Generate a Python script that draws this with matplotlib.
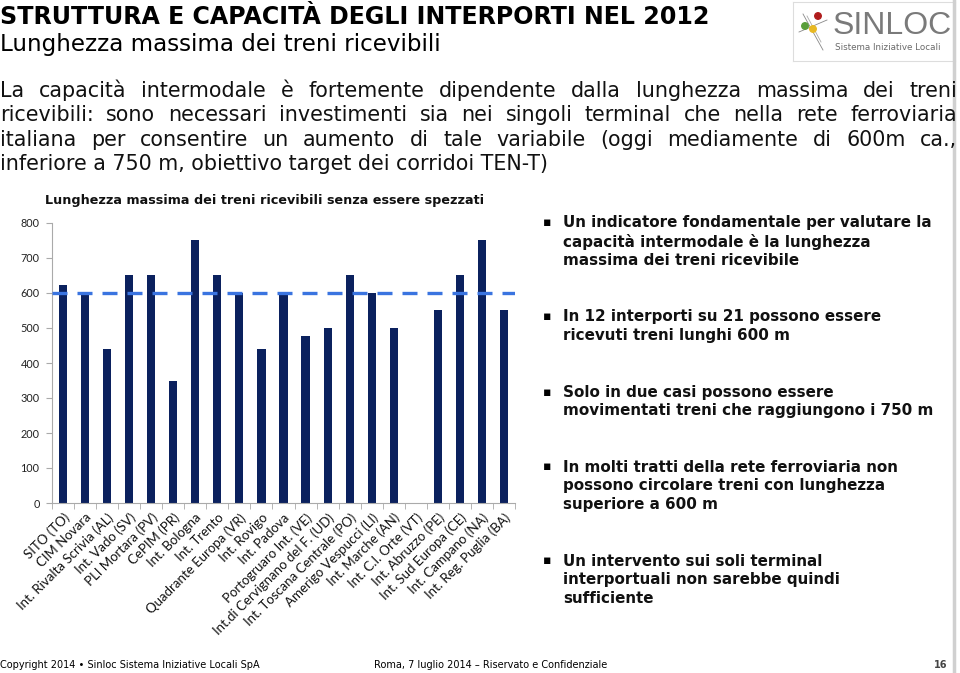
import numpy as np
import matplotlib
matplotlib.use('Agg')
import matplotlib.pyplot as plt

plt.rcParams['font.family'] = ['DejaVu Sans']

# data
interporti = ['SITO (TO)', 'CIM Novara', 'Int. Rivalta Scrivia (AL)', 'Int. Vado (SV)',
              'PLI Mortara (PV)', 'CePIM (PR)', 'Int. Bologna', 'Int. Trento',
              'Quadrante Europa (VR)', 'Int. Rovigo', 'Int. Padova', 'Portogruaro Int. (VE)',
              'Int.di Cervignano del F. (UD)', 'Int. Toscana Centrale (PO)',
              'Amerigo Vespucci (LI)', 'Int. Marche (AN)', 'Int. C.I. Orte (VT)',
              'Int. Abruzzo (PE)', 'Int. Sud Europa (CE)', 'Int. Campano (NA)',
              'Int. Reg. Puglia (BA)']
lunghezza = [623, 600, 440, 650, 650, 350, 750, 650, 600, 440, 600, 478,
             500, 650, 600, 500, 0, 550, 650, 750, 550]
soglia = 600
y_ticks = [0, 100, 200, 300, 400, 500, 600, 700, 800]

titolo = 'STRUTTURA E CAPACITÀ DEGLI INTERPORTI NEL 2012'
sottotitolo = 'Lunghezza massima dei treni ricevibili'
paragrafo = ['La capacità intermodale è fortemente dipendente dalla lunghezza massima dei treni',
             'ricevibili: sono necessari investimenti sia nei singoli terminal che nella rete ferroviaria',
             'italiana per consentire un aumento di tale variabile (oggi mediamente di 600m ca.,',
             'inferiore a 750 m, obiettivo target dei corridoi TEN-T)']
punti = [['Un indicatore fondamentale per valutare la',
          'capacità intermodale è la lunghezza',
          'massima dei treni ricevibile'],
         ['In 12 interporti su 21 possono essere',
          'ricevuti treni lunghi 600 m'],
         ['Solo in due casi possono essere',
          'movimentati treni che raggiungono i 750 m'],
         ['In molti tratti della rete ferroviaria non',
          'possono circolare treni con lunghezza',
          'superiore a 600 m'],
         ['Un intervento sui soli terminal',
          'interportuali non sarebbe quindi',
          'sufficiente']]
punti_y = [223, 317, 392, 467, 561]

W, H = 960, 673
fig = plt.figure(figsize=(W / 100, H / 100), dpi=100)
fig.patch.set_facecolor('white')


def P(x, y):
    return x / W, 1 - y / H


# header
fig.text(*P(0, 17), titolo, fontsize=17.1, fontweight='bold', color='black', va='center')
fig.text(*P(0, 44), sottotitolo, fontsize=16.6, color='black', va='center')

# justified paragraph (baseline aligned)
renderer = fig.canvas.get_renderer()
for i, riga in enumerate(paragrafo):
    y = 97 + i * 24.3
    if i == len(paragrafo) - 1:
        fig.text(*P(0, y), riga, fontsize=14.9, color='#111111', va='baseline')
        continue
    parole = riga.split(' ')
    tt = [fig.text(*P(0, y), p, fontsize=14.9, color='#111111', va='baseline') for p in parole]
    widths = [t.get_window_extent(renderer).width for t in tt]
    gap = (957 - sum(widths)) / (len(parole) - 1)
    x = 0
    for t, w in zip(tt, widths):
        t.set_position(P(x, y))
        x += w + gap

# logo
logo = fig.add_axes([793 / W, 1 - 61 / H, 162 / W, 59 / H])
logo.set_xlim(0, 162)
logo.set_ylim(59, 0)
logo.set_xticks([])
logo.set_yticks([])
for s in logo.spines.values():
    s.set_color('#dddddd')
logo.plot([10, 30], [12, 48], color='#888888', lw=0.6)
logo.plot([6, 34], [30, 18], color='#888888', lw=0.6)
logo.plot([14, 28], [14, 40], color='#aaaaaa', lw=0.6)
logo.scatter([12, 25, 20], [24, 14, 27], s=[22, 22, 22], color=['#5a9e3a', '#b01c1c', '#e8b923'], zorder=3)
logo.text(40, 24, 'SINLOC', fontsize=23, color='#7a7a7a', va='center', family='Liberation Sans')
logo.text(42, 46, 'Sistema Iniziative Locali', fontsize=6.3, color='#6a6a6a', va='center')

# right gray border
fig.add_artist(plt.Line2D([954 / W, 954 / W], [0, 1], color='#d0d0d0', lw=2.5))

# chart
fig.text(*P(265, 200), 'Lunghezza massima dei treni ricevibili senza essere spezzati',
         fontsize=9.2, fontweight='bold', color='#111111', ha='center', va='center')

ax = fig.add_axes([52 / W, 1 - 503 / H, (515 - 52) / W, (503 - 223) / H])
x = np.arange(len(interporti))
ax.bar(x, lunghezza, width=0.37, color='#0b215e', zorder=2)
ax.axhline(soglia, color='#3a74e0', lw=2.4, dashes=(4.5, 3), zorder=3)
ax.set_xlim(-0.5, len(interporti) - 0.5)
ax.set_ylim(0, 800)
ax.set_yticks(y_ticks)
ax.set_yticklabels([str(v) for v in y_ticks], fontsize=7.8, family='Lato', color='#222222')
ax.set_xticks(x)
ax.set_xticklabels(interporti, rotation=45, ha='right', rotation_mode='anchor',
                   fontsize=9.5, family='Lato', color='#111111')
ax.set_xticks(np.arange(-0.5, len(interporti)), minor=True)
ax.tick_params(axis='x', which='major', length=0, pad=6)
ax.tick_params(axis='x', which='minor', length=4, color='#aaaaaa', direction='out')
ax.tick_params(axis='y', length=4, color='#aaaaaa', pad=5)
for s in ['top', 'right']:
    ax.spines[s].set_visible(False)
ax.spines['left'].set_color('#aaaaaa')
ax.spines['bottom'].set_color('#aaaaaa')

# bullets
for blocco, y0 in zip(punti, punti_y):
    fig.text(*P(543, y0), '▪', fontsize=9, color='black', va='center')
    for j, riga in enumerate(blocco):
        fig.text(*P(563, y0 + j * 18.8), riga, fontsize=10.9, fontweight='bold',
                 color='#111111', va='center')

# footer
fig.text(*P(0, 665), 'Copyright 2014 • Sinloc Sistema Iniziative Locali SpA', fontsize=7,
         family='Liberation Sans Narrow', va='center')
fig.text(*P(374, 665), 'Roma, 7 luglio 2014 – Riservato e Confidenziale', fontsize=7,
         family='Liberation Sans Narrow', va='center')
fig.text(*P(947, 665), '16', fontsize=7, fontweight='bold', family='Liberation Sans Narrow',
         va='center', ha='right', color='#444444')

fig.savefig('out.png', dpi=100)
